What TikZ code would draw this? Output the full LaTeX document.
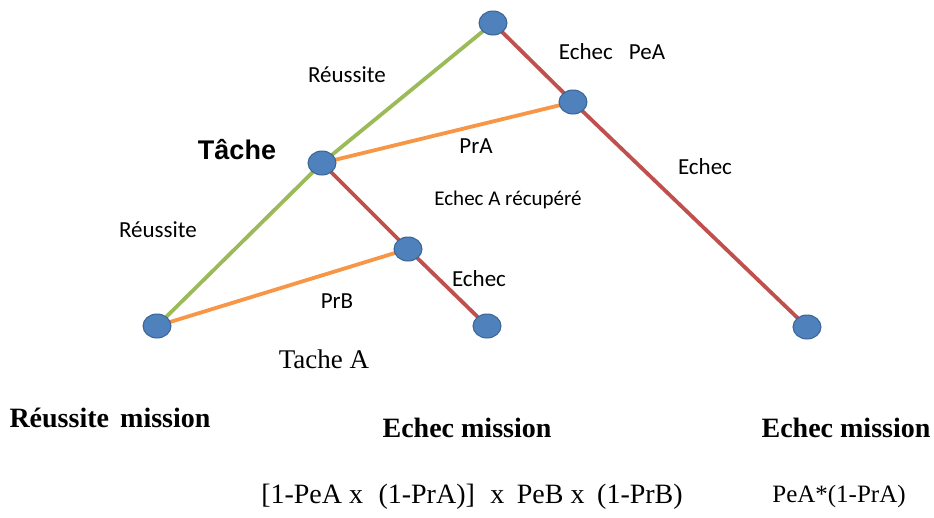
\documentclass[tikz,border=0pt]{standalone}
\usepackage{fontspec}
\setmainfont{Liberation Serif}
\newfontfamily\calib{Carlito}
\newfontfamily\arialf{Liberation Sans}
\usetikzlibrary{shapes.geometric,backgrounds}
\definecolor{dotblue}{HTML}{4F81BD}
\definecolor{dotedge}{HTML}{3A6494}
\definecolor{okgreen}{HTML}{9BBB59}
\definecolor{failred}{HTML}{C0504D}
\definecolor{recorange}{HTML}{F79646}
\tikzset{
  dot/.style={ellipse,fill=dotblue,draw=dotedge,line width=1pt,minimum width=28pt,minimum height=24pt,inner sep=0pt},
  succ/.style={draw=okgreen,line width=3.8pt},
  fail/.style={draw=failred,line width=3.8pt},
  recov/.style={draw=recorange,line width=3.8pt},
  lbl/.style={font=\calib\fontsize{23}{26}\selectfont,inner sep=0pt},
  smalllbl/.style={font=\calib\fontsize{21}{24}\selectfont,inner sep=0pt},
  res/.style={font=\bfseries\fontsize{28}{31}\selectfont,inner sep=0pt},
  formula/.style={font=\fontsize{28}{31}\selectfont,inner sep=0pt},
}
\begin{document}
\begin{tikzpicture}[x=1pt,y=-1pt]
\useasboundingbox (0,0) rectangle (934,517);
% event tree nodes
\node[dot] (top) at (493,23) {};
\node[dot] (pea) at (573,102) {};
\node[dot] (tache) at (322,163) {};
\node[dot] (mid) at (408,249) {};
\node[dot] (leafok) at (157,326) {};
\node[dot] (leafb) at (487,326) {};
\node[dot] (leafa) at (807,327) {};
% branches
\begin{scope}[on background layer]
\draw[succ] (top.center) -- (tache.center);
\draw[succ] (tache.center) -- (leafok.center);
\draw[fail] (top.center) -- (pea.center);
\draw[fail] (pea.center) -- (leafa.center);
\draw[fail] (tache.center) -- (mid.center);
\draw[fail] (mid.center) -- (leafb.center);
\draw[recov] (tache.center) -- (pea.center);
\draw[recov] (leafok.center) -- (mid.center);
\end{scope}
% branch labels
\node[lbl] (l1) at (347,75) {Réussite};
\node[lbl] (l2) at (612,52) {Echec\hspace{0.7em}PeA};
\node[lbl] (l3) at (476,146) {PrA};
\node[lbl] (l4) at (705,167) {Echec};
\node[smalllbl] (l5) at (508,200) {Echec A récupéré};
\node[lbl] (l6) at (158,230) {Réussite};
\node[lbl] (l7) at (479,279) {Echec};
\node[lbl] (l8) at (337,301) {PrB};
\node[font=\arialf\bfseries\fontsize{27}{30}\selectfont,inner sep=0pt] (l9) at (237,150) {Tâche};
\node[font=\fontsize{27}{30}\selectfont,inner sep=0pt] (l10) at (324,359) {Tache A};
% outcomes
\node[res] (r1) at (110,418) {Réussite\hspace{0.4em}mission};
\node[res] (r2) at (467,428) {Echec mission};
\node[res] (r3) at (846,428) {Echec mission};
\node[formula] (f1) at (472,497) {[1-PeA x\hspace{0.3em} (1-PrA)]\hspace{0.3em} x\hspace{0.2em} PeB x\hspace{0.2em} (1-PrB)};
\node[font=\fontsize{25}{28}\selectfont,inner sep=0pt] (f2) at (839,496) {PeA*(1-PrA)};
\end{tikzpicture}
\end{document}
